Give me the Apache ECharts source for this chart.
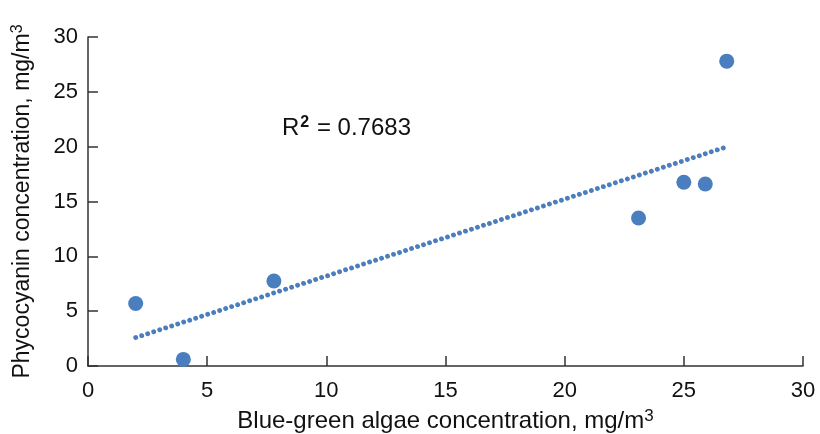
<!DOCTYPE html>
<html>
<head>
<meta charset="utf-8">
<script src="https://cdn.jsdelivr.net/npm/echarts@6/dist/echarts.min.js"></script>
<style>
  html, body { margin: 0; padding: 0; background: #fff; }
  #chart { width: 820px; height: 434px; }
</style>
</head>
<body>
<div id="chart"></div>
<script>
// Blue-green algae (x) vs phycocyanin (y), mg/m3
const algae = [2.0, 4.0, 7.8, 23.1, 25.0, 25.9, 26.8];
const phycocyanin = [5.7, 0.6, 7.75, 13.5, 16.75, 16.6, 27.8];
const xTicks = [0, 5, 10, 15, 20, 25, 30];
const yTicks = [0, 5, 10, 15, 20, 25, 30];
const rSquaredValue = '0.7683';

// Least-squares linear trend over the observations
const n = algae.length;
const mx = algae.reduce((a, b) => a + b, 0) / n;
const my = phycocyanin.reduce((a, b) => a + b, 0) / n;
let sxy = 0, sxx = 0;
for (let i = 0; i < n; i++) {
  sxy += (algae[i] - mx) * (phycocyanin[i] - my);
  sxx += (algae[i] - mx) ** 2;
}
const slope = sxy / sxx;
const intercept = my - slope * mx;
const xMin = Math.min(...algae), xMax = Math.max(...algae);
const trend = [[xMin, intercept + slope * xMin], [xMax, intercept + slope * xMax]];

const font = 'Liberation Sans, Arial, sans-serif';
const axisColor = '#333';
const textColor = '#111';
const blue = '#4a7ebf';

// Axis title styles with a raised "3" for m3
function titleStyle(size) {
  return {
    fontFamily: font, fontSize: size, color: textColor,
    rich: {
      sup: { fontFamily: font, fontSize: Math.round(size * 0.7), color: textColor, verticalAlign: 'top', padding: [0, 0, 10, 0] }
    }
  };
}

const chart = echarts.init(document.getElementById('chart'));
chart.setOption({
  animation: false,
  grid: { left: 88, right: 17, top: 37, bottom: 68, outerBoundsMode: 'none', containLabel: false },
  xAxis: {
    type: 'value', min: xTicks[0], max: xTicks[xTicks.length - 1], interval: 5,
    name: 'Blue-green algae concentration, mg/m{sup|3}',
    nameLocation: 'middle', nameGap: 42,
    nameTextStyle: titleStyle(24),
    axisLine: { show: true, lineStyle: { color: axisColor, width: 1.5 } },
    axisTick: { show: true, inside: true, length: 10, lineStyle: { color: axisColor, width: 1.5 } },
    axisLabel: { fontFamily: font, fontSize: 22, color: textColor, margin: 14 },
    splitLine: { show: false }
  },
  yAxis: {
    type: 'value', min: yTicks[0], max: yTicks[yTicks.length - 1], interval: 5,
    name: 'Phycocyanin concentration, mg/m{sup|3}',
    nameLocation: 'middle', nameGap: 52, nameRotate: 90,
    nameTextStyle: titleStyle(23),
    axisLine: { show: true, lineStyle: { color: axisColor, width: 1.5 } },
    axisTick: { show: true, inside: true, length: 10, lineStyle: { color: axisColor, width: 1.5 } },
    axisLabel: { fontFamily: font, fontSize: 22, color: textColor, margin: 10 },
    splitLine: { show: false }
  },
  series: [
    {
      type: 'line',
      data: trend,
      symbol: 'none',
      silent: true,
      lineStyle: { color: blue, width: 4.8, type: [0.1, 6.2], cap: 'round' },
      z: 1
    },
    {
      type: 'scatter',
      data: algae.map((x, i) => [x, phycocyanin[i]]),
      symbol: 'circle',
      symbolSize: 15,
      itemStyle: { color: blue, opacity: 1 },
      z: 2
    }
  ],
  graphic: [{
    type: 'text',
    left: 282, top: 115,
    style: {
      text: 'R{sup|2} = ' + rSquaredValue,
      font: '24px ' + font, fill: textColor,
      rich: { sup: { font: 'bold 16px ' + font, fill: textColor, verticalAlign: 'top', padding: [0, 1, 10, 1] } }
    }
  }]
});
</script>
</body>
</html>
